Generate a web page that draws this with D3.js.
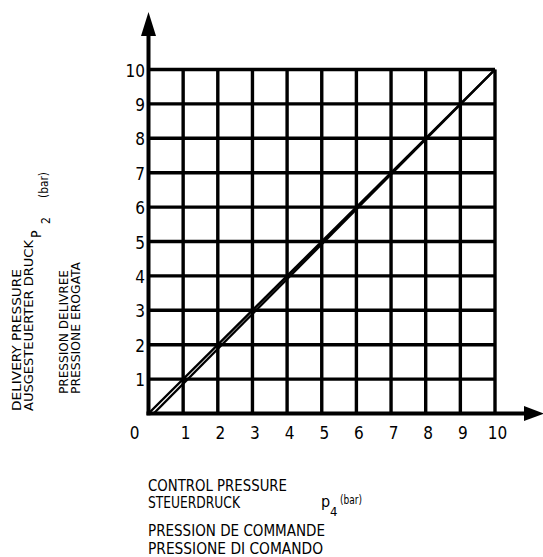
<!DOCTYPE html>
<html>
<head>
<meta charset="utf-8">
<script src="https://cdn.jsdelivr.net/npm/d3@7"></script>
<style>
  html, body { margin: 0; padding: 0; background: #fff; }
  svg { display: block; }
  text { font-family: "Liberation Sans Narrow", "DejaVu Sans Condensed", "Liberation Sans", sans-serif; fill: #000; }
</style>
</head>
<body>
<svg id="chart" width="543" height="557"></svg>
<script>
// Control pressure p4 (bar) vs delivery pressure p2 (bar)
const xTickValues = [0, 1, 2, 3, 4, 5, 6, 7, 8, 9, 10];
const yTickValues = [1, 2, 3, 4, 5, 6, 7, 8, 9, 10];
const gridX = [0, 1, 2, 3, 4, 5, 6, 7, 8, 9, 10];
const gridY = [0, 1, 2, 3, 4, 5, 6, 7, 8, 9, 10];
// characteristic curves: ideal line and measured line (slight offset at low pressure)
const idealLine = [[0, 0], [10, 10]];
const measuredLine = [[0.15, 0], [10, 10]];

const xTitleLines = ["CONTROL PRESSURE", "STEUERDRUCK", "PRESSION DE COMMANDE", "PRESSIONE DI COMANDO"];
const yTitleLines = ["DELIVERY PRESSURE", "AUSGESTEUERTER DRUCK", "PRESSION DELIVREE", "PRESSIONE EROGATA"];

const svg = d3.select("#chart");
const x = d3.scaleLinear().domain([0, 10]).range([148.5, 495]);
const y = d3.scaleLinear().domain([0, 10]).range([413.5, 69.5]);

// grid
const g = svg.append("g");
g.selectAll("line.v").data(gridX.filter(d => d > 0)).join("line")
  .attr("x1", d => x(d)).attr("x2", d => x(d))
  .attr("y1", y(0)).attr("y2", y(10))
  .attr("stroke", "#000").attr("stroke-width", 3.4);
g.selectAll("line.h").data(gridY.filter(d => d > 0)).join("line")
  .attr("x1", x(0)).attr("x2", x(10))
  .attr("y1", d => y(d)).attr("y2", d => y(d))
  .attr("stroke", "#000").attr("stroke-width", 3.4);

// axes with arrowheads
g.append("line").attr("x1", x(0)).attr("x2", x(0)).attr("y1", y(0) + 1.7).attr("y2", 30)
  .attr("stroke", "#000").attr("stroke-width", 4);
g.append("path")
  .attr("d", `M${x(0)},12 L${x(0) - 7.5},36 L${x(0) + 7.5},36 Z`).attr("fill", "#000");
g.append("line").attr("x1", x(0) - 2).attr("x2", 530).attr("y1", y(0)).attr("y2", y(0))
  .attr("stroke", "#000").attr("stroke-width", 4);
g.append("path")
  .attr("d", `M544,${y(0)} L524,${y(0) - 7.5} L524,${y(0) + 7.5} Z`).attr("fill", "#000");

// curves
const line = d3.line().x(d => x(d[0])).y(d => y(d[1]));
[idealLine, measuredLine].forEach(data => {
  g.append("path").attr("d", line(data)).attr("fill", "none")
    .attr("stroke", "#000").attr("stroke-width", 2.4);
});

// tick labels
svg.append("g").selectAll("text").data(xTickValues).join("text")
  .attr("x", d => d === 0 ? x(0) - 14 : x(d) + 2.5)
  .attr("y", 439)
  .attr("text-anchor", "middle")
  .attr("font-size", 17)
  .text(d => d);
svg.append("g").selectAll("text").data(yTickValues).join("text")
  .attr("x", 145)
  .attr("y", d => y(d) + 7)
  .attr("text-anchor", "end")
  .attr("font-size", 17)
  .text(d => d);

// x title
const xt = svg.append("g");
const xRows = [
  { t: xTitleLines[0], y: 491, len: 139 },
  { t: xTitleLines[1], y: 508, len: 92 },
  { t: xTitleLines[2], y: 536, len: 177 },
  { t: xTitleLines[3], y: 553.5, len: 175 }
];
xt.selectAll("text").data(xRows).join("text")
  .attr("x", 148).attr("y", d => d.y)
  .attr("font-size", 15)
  .attr("textLength", d => d.len).attr("lengthAdjust", "spacingAndGlyphs")
  .text(d => d.t);
xt.append("text").attr("x", 321).attr("y", 507).attr("font-size", 16).text("p");
xt.append("text").attr("x", 330).attr("y", 516).attr("font-size", 13).text("4");
xt.append("text").attr("x", 340).attr("y", 504).attr("font-size", 12)
  .attr("textLength", 22).attr("lengthAdjust", "spacingAndGlyphs").text("(bar)");

// y title (rotated)
const yt = svg.append("g");
const yRows = [
  { t: yTitleLines[0], bx: 21, start: 411, len: 142 },
  { t: yTitleLines[1], bx: 33, start: 411, len: 171 },
  { t: yTitleLines[2], bx: 68, start: 394, len: 124 },
  { t: yTitleLines[3], bx: 80, start: 394, len: 132 }
];
yt.selectAll("text").data(yRows).join("text")
  .attr("transform", d => `translate(${d.bx},${d.start}) rotate(-90)`)
  .attr("font-size", 13)
  .attr("textLength", d => d.len).attr("lengthAdjust", "spacingAndGlyphs")
  .text(d => d.t);
yt.append("text").attr("transform", "translate(41,238) rotate(-90)")
  .attr("font-size", 14).text("P");
yt.append("text").attr("transform", "translate(50,224) rotate(-90)")
  .attr("font-size", 12).text("2");
yt.append("text").attr("transform", "translate(48,198) rotate(-90)")
  .attr("font-size", 11.5).attr("textLength", 26).attr("lengthAdjust", "spacingAndGlyphs").text("(bar)");
</script>
</body>
</html>
